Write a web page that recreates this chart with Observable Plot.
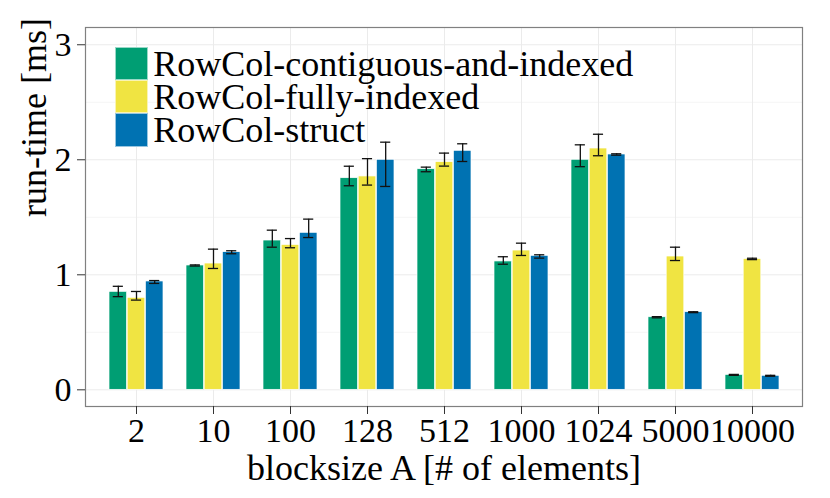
<!DOCTYPE html>
<html>
<head>
<meta charset="utf-8">
<script src="https://cdn.jsdelivr.net/npm/d3@7"></script>
<script src="https://cdn.jsdelivr.net/npm/@observablehq/plot@0.6"></script>
<style>
  html, body { margin: 0; padding: 0; background: #fff; }
  #wrap { position: relative; width: 830px; height: 498px; font-family: "Liberation Serif", "DejaVu Serif", serif; }
  #wrap svg text { font-family: "Liberation Serif", "DejaVu Serif", serif; }
  #wrap g[aria-label="xtitle"] text { letter-spacing: 0.65px; }
  #wrap g[aria-label="ytitle"] text { letter-spacing: 1.1px; }
  #legend { position: absolute; left: 115px; top: 46.7px; }
  .row { display: flex; align-items: center; height: 33.3px; }
  .key { width: 33.3px; height: 33.3px; box-sizing: border-box; border: 1px solid rgba(255,255,255,0.6); }
  .lab { margin-left: 5px; font-size: 36px; line-height: 33.3px; color: #000; white-space: nowrap; position: relative; top: 1px; }
</style>
</head>
<body>
<div id="wrap"><div id="legend"></div></div>
<script>
const blocksizes = ["2", "10", "100", "128", "512", "1000", "1024", "5000", "10000"];
const series = ["RowCol-contiguous-and-indexed", "RowCol-fully-indexed", "RowCol-struct"];
const colors = ["#009E73", "#F0E442", "#0072B2"];

const contiguousMean = [0.852, 1.081, 1.298, 1.840, 1.918, 1.116, 2.000, 0.631, 0.130];
const contiguousLo   = [0.810, 1.076, 1.240, 1.774, 1.896, 1.092, 1.940, 0.626, 0.126];
const contiguousHi   = [0.900, 1.086, 1.388, 1.944, 1.936, 1.157, 2.130, 0.636, 0.134];

const fullyMean = [0.800, 1.098, 1.260, 1.855, 1.980, 1.211, 2.098, 1.159, 1.138];
const fullyLo   = [0.780, 1.055, 1.235, 1.780, 1.945, 1.168, 2.035, 1.124, 1.132];
const fullyHi   = [0.855, 1.223, 1.315, 2.010, 2.058, 1.275, 2.222, 1.240, 1.144];

const structMean = [0.942, 1.197, 1.365, 2.000, 2.078, 1.165, 2.046, 0.675, 0.122];
const structLo   = [0.925, 1.183, 1.324, 1.768, 1.985, 1.145, 2.040, 0.671, 0.118];
const structHi   = [0.950, 1.209, 1.484, 2.153, 2.139, 1.174, 2.052, 0.679, 0.126];

const yTicks = [0, 1, 2, 3];
const yMinor = [0.5, 1.5, 2.5];

const means = [contiguousMean, fullyMean, structMean];
const los = [contiguousLo, fullyLo, structLo];
const his = [contiguousHi, fullyHi, structHi];

const rows = [];
series.forEach((s, si) => blocksizes.forEach((b, bi) => rows.push({
  blocksize: b, series: s, value: means[si][bi], lo: los[si][bi], hi: his[si][bi]
})));

const W = 830, H = 498, mL = 85, mR = 28, mT = 27, mB = 92;
const padInner = 0.3, padOuter = 0.25;
const step = (W - mL - mR) / (blocksizes.length - padInner + 2 * padOuter);
const bw = step * (1 - padInner);
const barW = bw / 3;
const capW = 10.7;
const FONT = "'Liberation Serif', 'DejaVu Serif', serif";

const marks = [
  Plot.ruleY(yMinor, {stroke: "#f5f5f5", strokeWidth: 1}),
  Plot.ruleY(yTicks, {stroke: "#ebebeb", strokeWidth: 1}),
  Plot.ruleX(blocksizes, {x: d => d, stroke: "#ebebeb", strokeWidth: 1})
];
series.forEach((s, i) => {
  const data = rows.filter(r => r.series === s);
  const off = (i - 1) * barW;
  marks.push(Plot.barY(data, {x: "blocksize", y: "value", fill: "series", stroke: "white", strokeWidth: 0.7,
    insetLeft: barW, insetRight: barW, dx: off}));
});
series.forEach((s, i) => {
  const data = rows.filter(r => r.series === s);
  const off = (i - 1) * barW;
  const ci = (bw - capW) / 2;
  marks.push(Plot.ruleX(data, {x: "blocksize", y1: "lo", y2: "hi", dx: off, stroke: "#111", strokeWidth: 1.3}));
  marks.push(Plot.tickY(data, {x: "blocksize", y: "lo", dx: off, insetLeft: ci, insetRight: ci, stroke: "#111", strokeWidth: 1.3}));
  marks.push(Plot.tickY(data, {x: "blocksize", y: "hi", dx: off, insetLeft: ci, insetRight: ci, stroke: "#111", strokeWidth: 1.3}));
});
marks.push(
  Plot.frame({stroke: "#808080", strokeWidth: 1.2}),
  Plot.axisX({tickSize: 8, tickPadding: 3, stroke: "#333", fill: "#000", fontSize: 34, fontFamily: FONT, label: null}),
  Plot.axisY({ticks: yTicks, tickSize: 8, tickPadding: 6, stroke: "#333", fill: "#000", fontSize: 34, fontFamily: FONT, label: null, tickFormat: d3.format("d")}),
  Plot.text(["blocksize A [# of elements]"], {ariaLabel: "xtitle", frameAnchor: "bottom", lineAnchor: "middle", dy: 62, fontSize: 36, fontFamily: FONT, fill: "#000"}),
  Plot.text(["run-time [ms]"], {ariaLabel: "ytitle", frameAnchor: "left", lineAnchor: "middle", rotate: -90, dx: -51, fontSize: 36, fontFamily: FONT, fill: "#000"})
);

const chart = Plot.plot({
  width: W, height: H,
  marginLeft: mL, marginRight: mR, marginTop: mT, marginBottom: mB,
  style: {fontFamily: FONT, background: "white", color: "black", overflow: "visible"},
  x: {type: "band", domain: blocksizes, paddingInner: padInner, paddingOuter: padOuter, axis: null},
  y: {domain: [-0.145, 3.15], axis: null},
  color: {domain: series, range: colors},
  marks
});
document.getElementById("wrap").prepend(chart);

const legend = document.getElementById("legend");
series.forEach((s, i) => {
  const row = document.createElement("div");
  row.className = "row";
  const key = document.createElement("div");
  key.className = "key";
  key.style.background = colors[i];
  const lab = document.createElement("span");
  lab.className = "lab";
  lab.textContent = s;
  row.appendChild(key);
  row.appendChild(lab);
  legend.appendChild(row);
});
</script>
</body>
</html>
